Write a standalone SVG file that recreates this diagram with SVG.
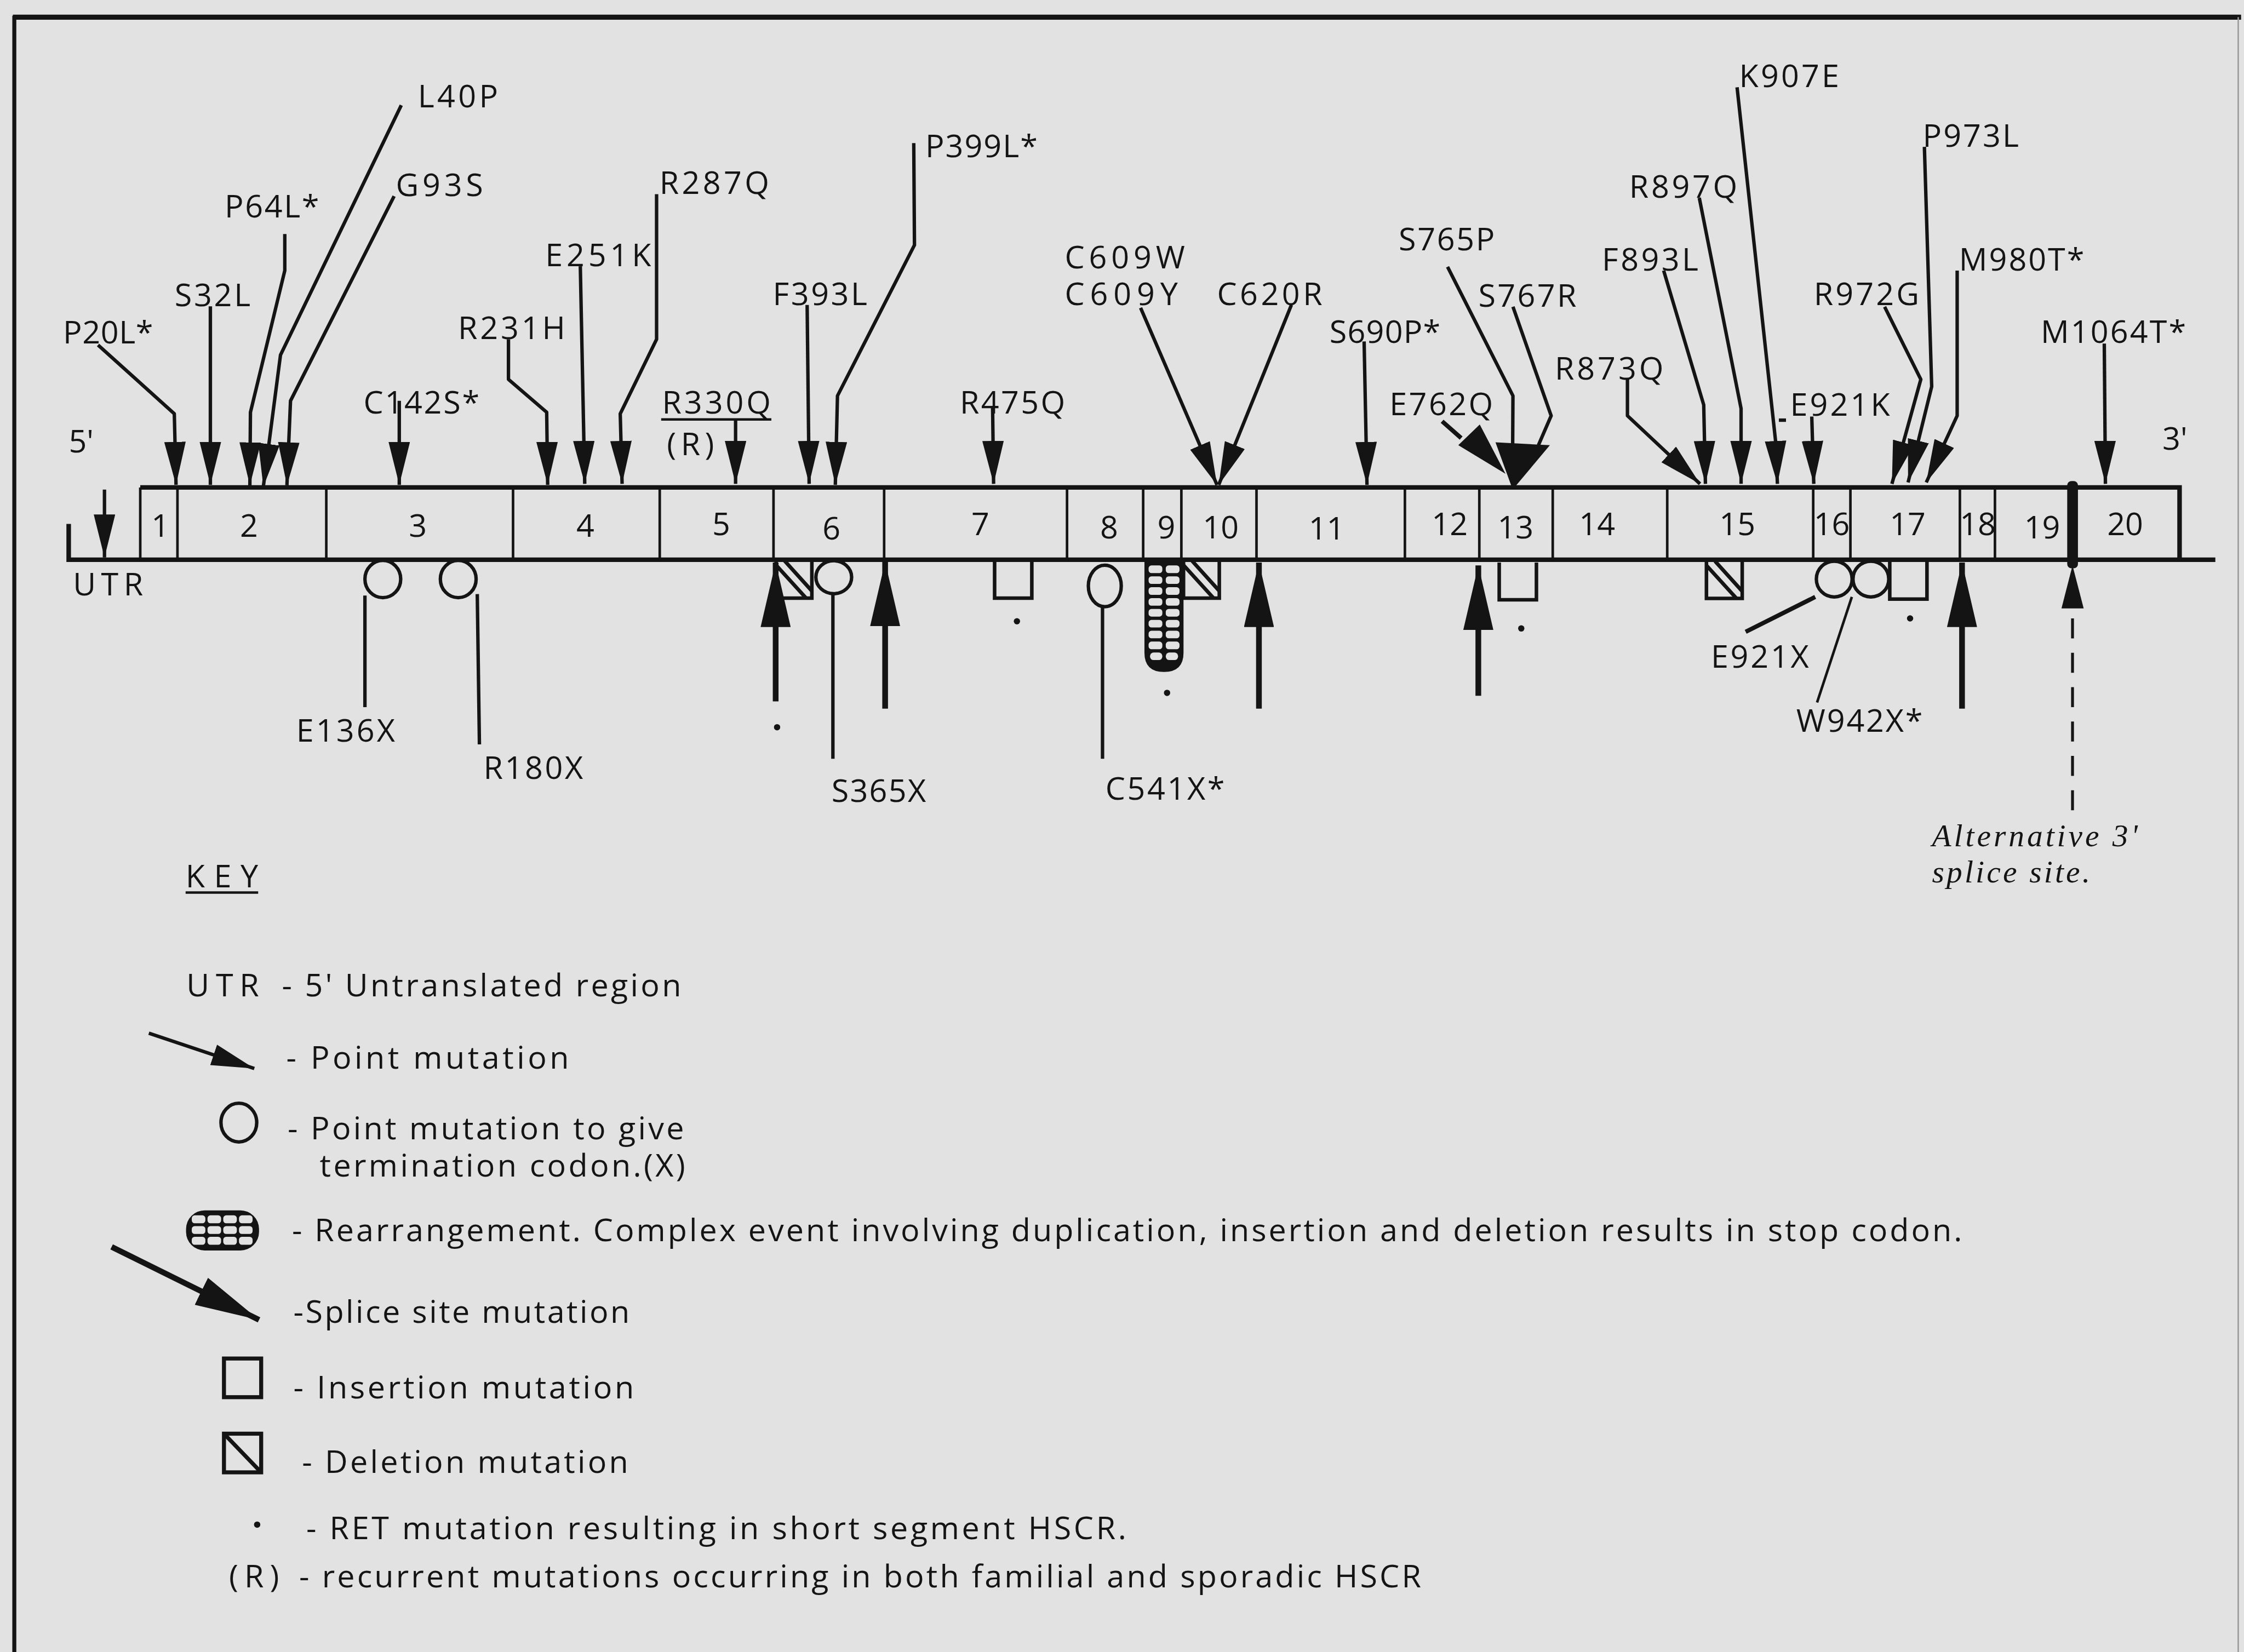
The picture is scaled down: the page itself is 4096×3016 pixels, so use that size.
<svg xmlns="http://www.w3.org/2000/svg" xmlns:xlink="http://www.w3.org/1999/xlink" width="4096" height="3016" viewBox="0 0 4096 3016">
<style>
.t{font-family:"Open Sans","Liberation Sans",sans-serif;font-size:22px;fill:#141414}
.ex{text-anchor:middle}
.k{font-size:22px}
.it{font-style:italic;font-family:"Liberation Serif","DejaVu Serif",serif;font-size:22px}
.ln{fill:none;stroke:#141414;stroke-width:2.4;stroke-linejoin:round}
.th{fill:none;stroke:#141414;stroke-width:4}
.sym{fill:none;stroke:#141414;stroke-width:2.4}
.f{fill:#141414}
</style>
<defs>
<marker id="ah" markerUnits="userSpaceOnUse" markerWidth="30" markerHeight="15" refX="30" refY="7.5" orient="auto" viewBox="0 0 30 15"><path d="M0,0 L30,7.5 L0,15 z" fill="#141414"/></marker>
<marker id="sh" markerUnits="userSpaceOnUse" markerWidth="45" markerHeight="21" refX="45" refY="10.5" orient="auto" viewBox="0 0 45 21"><path d="M0,0 L45,10.5 L0,21 z" fill="#141414"/></marker>
<g id="del"><path d="M0,0 V26 H25 V0" fill="none" stroke="#141414" stroke-width="2.5"/><path d="M0,3 L21,26 M6,0 L25,21" stroke="#141414" stroke-width="2.6"/></g>
<path id="ins" d="M0,0 V26 H26 V0" fill="none" stroke="#141414" stroke-width="2.5"/>
</defs>
<rect width="4096" height="3016" fill="#e2e2e2"/>
<g transform="scale(2.6122 2.6135)">
<g id="frame">
<line x1="9" y1="12" x2="1566" y2="12" stroke="#141414" stroke-width="3.5"/>
<line x1="10" y1="11" x2="10" y2="1154" stroke="#141414" stroke-width="2.8"/>
<line x1="1564" y1="12" x2="1564" y2="1154" stroke="#9a9a9a" stroke-width="1"/>
</g>

<g id="gene">
<path d="M48,366 V391 H1548" fill="none" stroke="#141414" stroke-width="3.2"/>
<path d="M98,340.5 H1523 V391" fill="none" stroke="#141414" stroke-width="3.2"/>
<path d="M98,340.5 V391 M124,340.5 V391 M228,340.5 V391 M358.5,340.5 V391 M461,340.5 V391 M540.5,340.5 V391 M617.8,340.5 V391 M745.6,340.5 V391 M798.8,340.5 V391 M825.5,340.5 V391 M878,340.5 V391 M981.7,340.5 V391 M1033.7,340.5 V391 M1085,340.5 V391 M1165,340.5 V391 M1267,340.5 V391 M1293,340.5 V391 M1369.5,340.5 V391 M1394,340.5 V391" fill="none" stroke="#141414" stroke-width="1.8"/>
<rect x="1444.5" y="336" width="7.5" height="61" rx="3" fill="#141414"/>
<text class="t ex" x="112" y="375">1</text>
<text class="t ex" x="174" y="375">2</text>
<text class="t ex" x="292" y="375">3</text>
<text class="t ex" x="409" y="375">4</text>
<text class="t ex" x="504" y="374">5</text>
<text class="t ex" x="581" y="377">6</text>
<text class="t ex" x="685" y="374">7</text>
<text class="t ex" x="775" y="376">8</text>
<text class="t ex" x="815" y="376">9</text>
<text class="t ex" x="853" y="376">10</text>
<text class="t ex" x="927" y="377">11</text>
<text class="t ex" x="1013" y="374">12</text>
<text class="t ex" x="1059" y="376">13</text>
<text class="t ex" x="1116" y="374">14</text>
<text class="t ex" x="1214" y="374">15</text>
<text class="t ex" x="1280" y="374">16</text>
<text class="t ex" x="1333" y="374">17</text>
<text class="t ex" x="1382" y="374">18</text>
<text class="t ex" x="1427" y="376">19</text>
<text class="t ex" x="1485" y="374">20</text>
<text class="t" x="48" y="316">5'</text>
<text class="t" x="1511" y="314">3'</text>
<text class="t" x="51" y="416" textLength="49">UTR</text>
</g>

<g id="connectors">
<path class="ln" d="M73,342 V389.4" marker-end="url(#ah)"/>
<path class="ln" d="M68.5,241 L121.8,289 L123,338.7" marker-end="url(#ah)"/>
<path class="ln" d="M147,214 V338.7" marker-end="url(#ah)"/>
<path class="ln" d="M199,163.5 V189 L175,288 L174.6,339" marker-end="url(#ah)"/>
<path class="ln" d="M280.4,73.5 L196,248 L184,340" marker-end="url(#ah)"/>
<path class="ln" d="M275.4,137 L203,280 L200.5,339" marker-end="url(#ah)"/>
<path class="ln" d="M279,280 V338.7" marker-end="url(#ah)"/>
<path class="ln" d="M355.3,237 V265 L382,288 L382.7,338.7" marker-end="url(#ah)"/>
<path class="ln" d="M405.5,186 L408.6,338" marker-end="url(#ah)"/>
<path class="ln" d="M458.8,135.6 V237 L433.4,289 L434.7,338" marker-end="url(#ah)"/>
<path class="ln" d="M514,293 V338" marker-end="url(#ah)"/>
<path class="ln" d="M564,213 L565.4,338" marker-end="url(#ah)"/>
<path class="ln" d="M638.5,100 L639,171.2 L585.2,276.5 L583.7,338.7" marker-end="url(#ah)"/>
<path class="ln" d="M693.6,285 L694.3,338" marker-end="url(#ah)"/>
<path class="ln" d="M797,215 L850.4,338.7" marker-end="url(#ah)"/>
<path class="ln" d="M902.4,213 L851.6,338.7" marker-end="url(#ah)"/>
<path class="ln" d="M953.2,238.5 L955.2,338.7" marker-end="url(#ah)"/>
<path class="ln" d="M1011.5,186.4 L1057.2,276.5 L1057,312"/>
<path class="ln" d="M1057.2,214.3 L1083.9,290.4 L1075,311"/>
<polygon class="f" points="1045,309 1083,311 1057,342"/>
<path class="ln" d="M1007.7,294.3 L1021,306" style="stroke-width:3"/>
<polygon class="f" points="1019,311 1034,296.5 1052,331"/>
<path class="ln" d="M1137.2,265 V290.4 L1187.9,338" marker-end="url(#ah)"/>
<path class="ln" d="M1162.5,189 L1190.5,282.8 L1191.7,338" marker-end="url(#ah)"/>
<path class="ln" d="M1187.4,138.2 L1216.6,285.4 V338" marker-end="url(#ah)"/>
<path class="ln" d="M1213.8,61 L1240.7,308 L1242,338" marker-end="url(#ah)"/>
<path class="ln" d="M1266,291 L1267.4,338" marker-end="url(#ah)"/>
<path class="ln" d="M1243,293.5 H1248"/>
<path class="ln" d="M1316.9,214.3 L1342.2,265 L1322,338" marker-end="url(#ah)"/>
<path class="ln" d="M1344.7,102.6 L1349.8,270 L1333.3,337" marker-end="url(#ah)"/>
<path class="ln" d="M1367.6,189 V290.4 L1346,337" marker-end="url(#ah)"/>
<path class="ln" d="M1470.4,240 L1471.2,338" marker-end="url(#ah)"/>
<path class="ln" d="M255,416 V494"/>
<path class="ln" d="M333.5,415 L335,520"/>
<path class="ln" d="M582,414 V530"/>
<path class="ln" d="M770.4,423 V530"/>
<path class="ln" d="M1268.4,417 L1219.8,441.4" style="stroke-width:3"/>
<path class="ln" d="M1294,417 L1269.7,490.7" style="stroke-width:1.8"/>
<path class="th" d="M1448.2,432 V568" stroke-dasharray="14 10" style="stroke-width:2"/>
<polygon class="f" points="1448.2,395 1440.5,425 1456,425"/>
</g>

<g id="lesions">
<use xlink:href="#del" x="542.3" y="391.8"/>
<use xlink:href="#del" x="827" y="391.8"/>
<use xlink:href="#del" x="1192.4" y="392"/>
<use xlink:href="#ins" x="695" y="391.8"/>
<use xlink:href="#ins" x="1047.6" y="393"/>
<use xlink:href="#ins" x="1320.5" y="392.5"/>
<ellipse class="sym" cx="267.5" cy="404.5" rx="12.5" ry="13"/>
<ellipse class="sym" cx="320.2" cy="404.5" rx="12.5" ry="13"/>
<ellipse class="sym" cx="582.6" cy="403.2" rx="12.5" ry="11.5"/>
<ellipse class="sym" cx="772" cy="409.3" rx="11.5" ry="14.5"/>
<ellipse class="sym" cx="1281.7" cy="404.5" rx="12.5" ry="12.5"/>
<ellipse class="sym" cx="1307.3" cy="404.5" rx="12.5" ry="12.5"/>
<g id="rearr-gene">
<path class="f" d="M799.7,391.8 H827 V456 Q827,469.4 813.35,469.4 Q799.7,469.4 799.7,456 Z"/>
<g fill="#e2e2e2">
<rect x="802.6" y="395" width="9.6" height="5.3" rx="2"/><rect x="814.6" y="395" width="9.6" height="5.3" rx="2"/>
<rect x="802.6" y="402.6" width="9.6" height="5.3" rx="2"/><rect x="814.6" y="402.6" width="9.6" height="5.3" rx="2"/>
<rect x="802.6" y="410.2" width="9.6" height="5.3" rx="2"/><rect x="814.6" y="410.2" width="9.6" height="5.3" rx="2"/>
<rect x="802.6" y="417.8" width="9.6" height="5.3" rx="2"/><rect x="814.6" y="417.8" width="9.6" height="5.3" rx="2"/>
<rect x="802.6" y="425.4" width="9.6" height="5.3" rx="2"/><rect x="814.6" y="425.4" width="9.6" height="5.3" rx="2"/>
<rect x="802.6" y="433" width="9.6" height="5.3" rx="2"/><rect x="814.6" y="433" width="9.6" height="5.3" rx="2"/>
<rect x="802.6" y="440.6" width="9.6" height="5.3" rx="2"/><rect x="814.6" y="440.6" width="9.6" height="5.3" rx="2"/>
<rect x="802.6" y="448.2" width="9.6" height="5.3" rx="2"/><rect x="814.6" y="448.2" width="9.6" height="5.3" rx="2"/>
<rect x="803.6" y="455.8" width="8.6" height="5.3" rx="2.5"/><rect x="814.6" y="455.8" width="8.6" height="5.3" rx="2.5"/>
</g>
</g>
<path class="th" d="M542,490 V393" marker-end="url(#sh)"/>
<path class="th" d="M618.5,495 V392.5" marker-end="url(#sh)"/>
<path class="th" d="M879.7,495 V393" marker-end="url(#sh)"/>
<path class="th" d="M1033,486 V395" marker-end="url(#sh)"/>
<path class="th" d="M1371,495 V393" marker-end="url(#sh)"/>
<circle class="f" cx="543" cy="508" r="2.2"/>
<circle class="f" cx="710.6" cy="434" r="2.2"/>
<circle class="f" cx="815.5" cy="484" r="2.2"/>
<circle class="f" cx="1063" cy="439" r="2.2"/>
<circle class="f" cx="1334.7" cy="432" r="2.2"/>
</g>

<g id="labels-above">
<text class="t" x="44" y="240" textLength="63">P20L*</text>
<text class="t" x="122" y="214" textLength="53">S32L</text>
<text class="t" x="157" y="152" textLength="66">P64L*</text>
<text class="t" x="292" y="75" textLength="56">L40P</text>
<text class="t" x="276.6" y="137" textLength="61">G93S</text>
<text class="t" x="254" y="289" textLength="81">C142S*</text>
<text class="t" x="320" y="237" textLength="75">R231H</text>
<text class="t" x="381" y="186" textLength="74">E251K</text>
<text class="t" x="460.8" y="135.6" textLength="76.7">R287Q</text>
<g id="r330q"><text class="t" x="462.6" y="289" textLength="76">R330Q</text>
<line x1="462" y1="293" x2="539" y2="293" stroke="#141414" stroke-width="1.8"/>
<text class="t" x="466" y="318" textLength="33">(R)</text></g>
<text class="t" x="540" y="213" textLength="66">F393L</text>
<text class="t" x="646.6" y="110" textLength="78.4">P399L*</text>
<text class="t" x="670.7" y="289" textLength="73.6">R475Q</text>
<text class="t" x="744" y="187.6" textLength="84">C609W</text>
<text class="t" x="744" y="213" textLength="79">C609Y</text>
<text class="t" x="850.4" y="213" textLength="73.6">C620R</text>
<text class="t" x="929" y="239.7" textLength="77.5">S690P*</text>
<text class="t" x="977.3" y="175" textLength="67.2">S765P</text>
<text class="t" x="1033" y="214.3" textLength="68.6">S767R</text>
<text class="t" x="970.9" y="290" textLength="72.4">E762Q</text>
<text class="t" x="1086.4" y="265" textLength="76">R873Q</text>
<text class="t" x="1119.4" y="189" textLength="67.3">F893L</text>
<text class="t" x="1138.4" y="138.2" textLength="75.6">R897Q</text>
<text class="t" x="1215.3" y="60.8" textLength="69.8">K907E</text>
<text class="t" x="1250.9" y="290.4" textLength="69.7">E921K</text>
<text class="t" x="1267.4" y="213" textLength="73.6">R972G</text>
<text class="t" x="1343.5" y="102.6" textLength="67.2">P973L</text>
<text class="t" x="1368.9" y="189" textLength="87.5">M980T*</text>
<text class="t" x="1426" y="239.7" textLength="101.5">M1064T*</text>
</g>

<g id="labels-below">
<text class="t" x="207" y="518" textLength="69">E136X</text>
<text class="t" x="337.8" y="544" textLength="69.6">R180X</text>
<text class="t" x="581" y="560" textLength="66">S365X</text>
<text class="t" x="772.4" y="558.5" textLength="83.4">C541X*</text>
<text class="t" x="1195.5" y="466.5" textLength="68.5">E921X</text>
<text class="t" x="1255.2" y="511.2" textLength="88.3">W942X*</text>
<text class="t it" x="1350" y="591" textLength="143.7">Alternative 3'</text>
<text class="t it" x="1350" y="616.5" textLength="110.5">splice  site.</text>
</g>

<g id="key">
<text class="t k" x="129.7" y="620" textLength="50.7">KEY</text>
<line x1="129.7" y1="623.5" x2="180.4" y2="623.5" stroke="#141414" stroke-width="1.8"/>
<text class="t k" x="130.3" y="696" textLength="50.7">UTR</text>
<text class="t k" x="197" y="696" textLength="279">- 5' Untranslated region</text>
<path class="ln" d="M104,721.7 L177.7,746.4" marker-end="url(#ah)"/>
<text class="t k" x="200" y="746.4" textLength="197.6">- Point mutation</text>
<ellipse class="sym" cx="166.9" cy="784.2" rx="12.5" ry="13.5"/>
<text class="t k" x="201" y="795.8" textLength="277">- Point mutation to give</text>
<text class="t k" x="223.4" y="821.8" textLength="255.4">termination codon.(X)</text>
<g id="rearr-key">
<rect class="f" x="130" y="845.5" width="51" height="28" rx="13"/>
<g fill="#e2e2e2">
<rect x="134" y="849" width="9.5" height="5.5" rx="2"/><rect x="145" y="849" width="9.5" height="5.5" rx="2"/><rect x="156" y="849" width="9.5" height="5.5" rx="2"/><rect x="167" y="849" width="9.5" height="5.5" rx="2"/>
<rect x="134" y="856.5" width="9.5" height="5.5" rx="2"/><rect x="145" y="856.5" width="9.5" height="5.5" rx="2"/><rect x="156" y="856.5" width="9.5" height="5.5" rx="2"/><rect x="167" y="856.5" width="9.5" height="5.5" rx="2"/>
<rect x="134" y="864" width="9.5" height="5.5" rx="2"/><rect x="145" y="864" width="9.5" height="5.5" rx="2"/><rect x="156" y="864" width="9.5" height="5.5" rx="2"/><rect x="167" y="864" width="9.5" height="5.5" rx="2"/>
</g>
</g>
<text class="t k" x="204" y="867" textLength="1167">- Rearrangement. Complex event involving duplication, insertion and deletion  results in stop codon.</text>
<path class="th" d="M78,871 L181,922" marker-end="url(#sh)"/>
<text class="t k" x="205" y="924" textLength="235">-Splice site mutation</text>
<rect class="sym" x="156.5" y="949" width="26" height="27" style="stroke-width:2.8"/>
<text class="t k" x="205" y="977" textLength="238">- Insertion  mutation</text>
<rect class="sym" x="156.5" y="1001.5" width="26" height="27" style="stroke-width:2.8"/>
<line x1="156.5" y1="1001.5" x2="182.5" y2="1028.5" stroke="#141414" stroke-width="2.8"/>
<text class="t k" x="211" y="1029" textLength="228">- Deletion mutation</text>
<circle class="f" cx="179.7" cy="1065" r="2.2"/>
<text class="t k" x="214" y="1075" textLength="573">- RET mutation resulting in short segment HSCR.</text>
<text class="t k" x="160" y="1109" textLength="35">(R)</text>
<text class="t k" x="209" y="1109" textLength="784">- recurrent mutations occurring in both familial and sporadic HSCR</text>
</g>
</g>
</svg>
